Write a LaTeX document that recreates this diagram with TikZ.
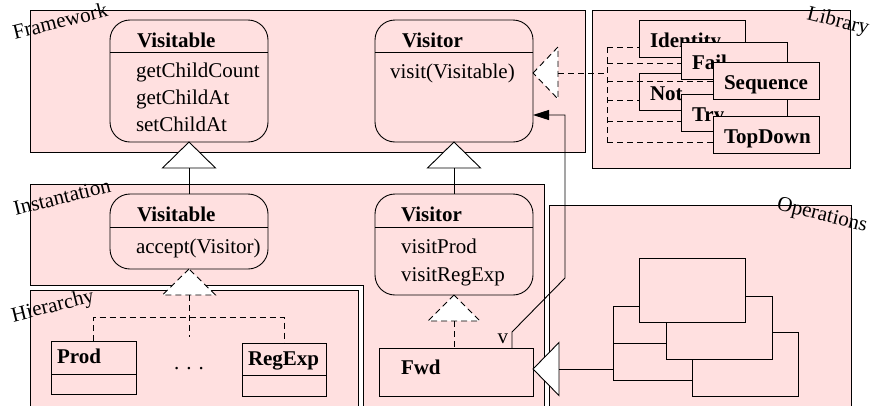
\documentclass[tikz,border=0pt]{standalone}
\usepackage{fontspec}
\setmainfont{Liberation Serif}
\usetikzlibrary{arrows.meta}
\definecolor{figpink}{RGB}{255,224,224}

\begin{document}
\begin{tikzpicture}[x=1pt, y=-1pt, line width=0.9pt,
		every node/.style={font=\fontsize{21}{25}\selectfont, inner sep=0pt, outer sep=0pt},
		area/.style={draw, fill=figpink},
		classbox/.style={draw, fill=figpink, rounded corners=20pt, anchor=north west},
		plainbox/.style={draw, fill=figpink, anchor=north west},
		libbox/.style={plainbox, minimum width=106, minimum height=37},
		clstitle/.style={anchor=base west, font=\fontsize{21}{25}\selectfont\bfseries},
		method/.style={anchor=base west},
		hollow/.style={draw, fill=white},
		realize/.style={dash pattern=on 6pt off 4pt}]

	\useasboundingbox (0,0) rectangle (872,405);
	\clip (0,0) rectangle (872,405);

	\draw[area] (30,10) rectangle (585,152);
	\draw[area] (592,10) rectangle (850,168);
	\draw[area] (30,184) rectangle (544,410);
	\draw[area] (549,205) rectangle (851,410);
	\fill[white] (30,285) rectangle (363,410);
	\draw (30,285) -- (363,285) -- (363,410);
	\draw[area] (30,290) rectangle (358,410);

	\node[rotate=14] (fw-label) at (60,21) {Framework};
	\node[rotate=-14] (lib-label) at (838,22) {Library};
	\node[rotate=14] (inst-label) at (62,197) {Instantation};
	\node[rotate=14] (hier-label) at (53,307) {Hierarchy};
	\node[rotate=-14] (ops-label) at (822,216) {Operations};

	% framework classes
	\node[classbox, minimum width=158, minimum height=122] (fvisitable) at (110,20) {};
	\draw ([yshift=-32pt]fvisitable.north west) -- ([yshift=-32pt]fvisitable.north east);
	\node[clstitle] (fvisitable-t) at (137,47) {Visitable};
	\node[method] (fvisitable-m1) at (136,77) {getChildCount};
	\node[method] (fvisitable-m2) at (136,104) {getChildAt};
	\node[method] (fvisitable-m3) at (136,131) {setChildAt};

	\node[classbox, minimum width=158, minimum height=122] (fvisitor) at (375,20) {};
	\draw ([yshift=-32pt]fvisitor.north west) -- ([yshift=-32pt]fvisitor.north east);
	\node[clstitle] (fvisitor-t) at (402,47) {Visitor};
	\node[method] (fvisitor-m1) at (390,78) {visit(Visitable)};

	% instantiation classes
	\node[classbox, minimum width=158, minimum height=75] (ivisitable) at (110,194) {};
	\draw ([yshift=-33pt]ivisitable.north west) -- ([yshift=-33pt]ivisitable.north east);
	\node[clstitle] (ivisitable-t) at (137,221) {Visitable};
	\node[method] (ivisitable-m1) at (136,253) {accept(Visitor)};

	\node[classbox, minimum width=158, minimum height=101] (ivisitor) at (375,194) {};
	\draw ([yshift=-33pt]ivisitor.north west) -- ([yshift=-33pt]ivisitor.north east);
	\node[clstitle] (ivisitor-t) at (401,221) {Visitor};
	\node[method] (ivisitor-m1) at (401,253) {visitProd};
	\node[method] (ivisitor-m2) at (401,281) {visitRegExp};

	\node[plainbox, minimum width=154, minimum height=48] (fwd) at (379,348) {};
	\node[clstitle] (fwd-t) at (401,374) {Fwd};

	% hierarchy
	\node[plainbox, minimum width=85, minimum height=53] (prod) at (51,341) {};
	\draw ([yshift=-33pt]prod.north west) -- ([yshift=-33pt]prod.north east);
	\node[clstitle] (prod-t) at (57,363) {Prod};
	\node[plainbox, minimum width=84, minimum height=53] (regexp) at (242,343) {};
	\draw ([yshift=-32pt]regexp.north west) -- ([yshift=-32pt]regexp.north east);
	\node[clstitle] (regexp-t) at (248,365) {RegExp};
	\node[anchor=base] (dots) at (189,369) {. . .};

	% library
	\foreach \n/\x/\y/\lbl in {identity/639/20/Identity, negation/639/73/Not, fail/681/42/Fail,
			try/681/94/Try, sequence/713/62/Sequence, topdown/713/116/TopDown} {
		\node[libbox] (lib-\n) at (\x,\y) {};
		\node[clstitle] (lib-\n-t) at ([shift={(11,27)}]lib-\n.north west) {\lbl};
	}

	% operations
	\foreach \n/\x/\y/\h in {1/613/306/37, 2/613/343/37, 3/692/332/64, 4/666/296/63, 5/639/258/64}
		\node[plainbox, minimum width=106, minimum height=\h] (ops-\n) at (\x,\y) {};

	% generalisations
	\draw[hollow] (fvisitable.south) -- ++(-26.5,26) -- ++(53,0) -- cycle;
	\draw ([yshift=-26pt]fvisitable.south) -- (ivisitable.north);
	\draw[hollow] (fvisitor.south) -- ++(-26.5,26) -- ++(53,0) -- cycle;
	\draw ([yshift=-26pt]fvisitor.south) -- (ivisitor.north);

	\coordinate (ops-apex) at ([yshift=3pt]fwd.east);
	\draw[hollow] (ops-apex) -- ++(26,-26.5) -- ++(0,53) -- cycle;
	\draw ([xshift=26pt]ops-apex) -- (ops-apex -| ops-2.west);

	% realisations
	\draw[realize, fill=white] (ivisitable.south) -- ++(-26.5,26) -- ++(53,0) -- cycle;
	\coordinate (hier-base) at ([yshift=-26pt]ivisitable.south);
	\coordinate (hier-join) at ([yshift=-22pt]hier-base);
	\draw[realize] (hier-base) -- ++(0,42);
	\draw[realize] (prod.north) |- (hier-join) -| (regexp.north);

	\draw[realize, fill=white] (ivisitor.south) -- ++(-26,26) -- ++(52,0) -- cycle;
	\coordinate (fwd-base) at ([yshift=-26pt]ivisitor.south);
	\draw[realize] (fwd-base) -- (fwd-base |- fwd.north);

	\coordinate (lib-apex) at ([yshift=8pt]fvisitor.east);
	\coordinate (lib-spine-top) at (607,47);
	\coordinate (lib-spine-bot) at (607,142);
	\draw[realize, fill=white] (lib-apex) -- ++(25,-26) -- ++(0,52) -- cycle;
	\draw[realize] ([xshift=25pt]lib-apex) -- (lib-apex -| lib-spine-top);
	\draw[realize] (lib-spine-top) -- (lib-spine-bot);
	\foreach \n/\dy in {identity/27, fail/21, sequence/19, negation/27, try/27, topdown/26} {
		\coordinate (lib-br) at ([yshift=-\dy pt]lib-\n.north west);
		\draw[realize] (lib-br -| lib-spine-top) -- (lib-br);
	}

	% forwarding visitor
	\coordinate (v-foot) at ([xshift=-21pt]fwd.north east);
	\coordinate (v-bend) at (565,278);
	\coordinate (v-top) at (565,115);
	\draw[-{Triangle[length=16pt,width=10pt]}] (v-foot) -- ++(0,-16) -- (v-bend) -- (v-top) -- (v-top -| fvisitor.east);
	\node[anchor=base east] (v-label) at (508,343) {v};
\end{tikzpicture}
\end{document}
